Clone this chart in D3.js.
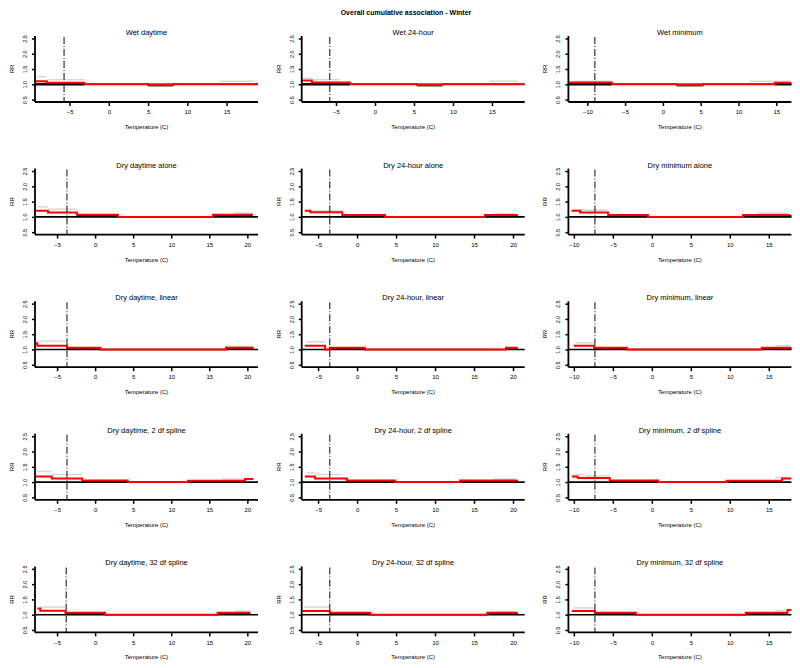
<!DOCTYPE html>
<html><head><meta charset="utf-8">
<script src="https://cdn.jsdelivr.net/npm/d3@7"></script>
<style>
body{margin:0;background:#fff}
svg{display:block}
text{font-family:"Liberation Sans",Arial,sans-serif;fill:#000}
</style>
</head><body>
<svg id="chart" width="800" height="668"></svg>
<script>
const mainTitle = "Overall cumulative association - Winter";
const panelTitles = [
  "Wet daytime", "Wet 24-hour", "Wet minimum",
  "Dry daytime alone", "Dry 24-hour alone", "Dry minimum alone",
  "Dry daytime, linear", "Dry 24-hour, linear", "Dry minimum, linear",
  "Dry daytime, 2 df spline", "Dry 24-hour, 2 df spline", "Dry minimum, 2 df spline",
  "Dry daytime, 32 df spline", "Dry 24-hour, 32 df spline", "Dry minimum, 32 df spline"
];
const yLabel = "RR";
const xLabel = "Temperature (C)";
const yTicks = [0.5, 1.0, 1.5, 2.0, 2.5];
const yDomain = [0.42, 2.58];

const domDay = [-7.9, 21.4], dom24 = [-7.1, 21.5], domMin = [-10.7, 17.9];
const xDomains = [
  [-9.4, 19.0], [-9.4, 19.2], [-12.5, 17.0],
  domDay, dom24, domMin,
  domDay, dom24, domMin,
  domDay, dom24, domMin,
  domDay, dom24, domMin
];
const ticksWet = [-5, 0, 5, 10, 15], ticksWetMin = [-10, -5, 0, 5, 10, 15];
const ticksDry = [-5, 0, 5, 10, 15, 20], ticksDryMin = [-10, -5, 0, 5, 10, 15];
const xTicks = [
  ticksWet, ticksWet, ticksWetMin,
  ticksDry, ticksDry, ticksDryMin,
  ticksDry, ticksDry, ticksDryMin,
  ticksDry, ticksDry, ticksDryMin,
  ticksDry, ticksDry, ticksDryMin
];
// vertical dash-dot reference temperature
const refTemps = [-5.7, -5.8, -9.0, -3.7, -3.5, -7.3, -3.7, -3.5, -7.3, -3.7, -3.5, -7.3, -3.8, -3.5, -7.3];

// RR estimate (red step line): breakpoints and values between them
const estBreaks = [
  [-9.4, -7.9, -3.1, 5.0, 8.2, 19.0],
  [-9.4, -8.1, -3.2, 5.4, 8.6, 19.2],
  [-12.5, -6.75, 1.85, 5.3, 14.8, 17.0],
  [-7.9, -6.2, -2.4, 3.0, 15.5, 20.7],
  [-6.7, -6.0, -1.9, 3.6, 16.4, 20.6],
  [-10.3, -9.2, -5.6, -0.5, 11.7, 17.7],
  [-7.9, -7.6, -3.7, 0.7, 17.2, 20.8],
  [-6.7, -4.1, -3.5, 1.0, 19.1, 20.6],
  [-10.0, -7.4, -3.2, 14.1, 17.9],
  [-7.9, -5.7, -1.7, 4.3, 12.2, 19.7, 20.8],
  [-6.7, -5.4, -1.3, 4.9, 13.2, 20.6],
  [-10.25, -9.5, -5.4, 0.8, 9.6, 16.7, 17.9],
  [-7.6, -7.2, -3.9, 1.3, 16.1, 20.4],
  [-7.0, -3.5, 1.7, 16.7, 20.6],
  [-10.25, -7.3, -2.05, 12.05, 17.4, 17.9]
];
const estValues = [
  [1.10, 1.05, 1.00, 0.98, 1.00],
  [1.12, 1.06, 1.00, 0.98, 1.00],
  [1.06, 1.00, 0.98, 1.00, 1.05],
  [1.20, 1.14, 1.07, 1.00, 1.07],
  [1.20, 1.15, 1.06, 1.00, 1.06],
  [1.20, 1.14, 1.06, 1.00, 1.06],
  [1.20, 1.12, 1.06, 1.00, 1.06],
  [1.12, 1.00, 1.06, 1.00, 1.06],
  [1.12, 1.06, 1.00, 1.06],
  [1.18, 1.12, 1.05, 1.00, 1.04, 1.10],
  [1.18, 1.12, 1.05, 1.00, 1.05],
  [1.18, 1.13, 1.05, 1.00, 1.04, 1.12],
  [1.20, 1.13, 1.06, 1.00, 1.06],
  [1.12, 1.06, 1.00, 1.06],
  [1.12, 1.06, 1.00, 1.06, 1.15]
];
// upper confidence limit (light grey): [from, to, RR]
const upperSegs = [
  [[-9.2, -7.9, 1.25], [-7.9, -3.1, 1.15], [14.1, 18.6, 1.10]],
  [[-9.3, -8.1, 1.20], [-8.1, -4.5, 1.15], [14.7, 18.3, 1.10]],
  [[-11.7, -6.75, 1.10], [11.5, 16.8, 1.10]],
  [[-7.6, -6.2, 1.33], [-6.2, -2.4, 1.25], [18.2, 20.7, 1.12]],
  [[-6.7, -1.9, 1.20], [17.5, 20.3, 1.10]],
  [[-10.0, -5.6, 1.22], [13.5, 17.5, 1.12]],
  [[-7.6, -3.9, 1.27], [17.0, 20.8, 1.10]],
  [[-6.5, -4.1, 1.25], [16.4, 19.6, 1.03]],
  [[-9.8, -7.4, 1.22], [15.8, 17.7, 1.12]],
  [[-7.6, -5.7, 1.35], [-5.7, -1.7, 1.25], [16.7, 20.5, 1.10]],
  [[-6.5, -5.4, 1.30], [-5.4, -2.0, 1.25], [17.5, 20.3, 1.10]],
  [[-10.0, -8.6, 1.25], [-8.6, -5.4, 1.20], [15.8, 17.7, 1.15]],
  [[-7.2, -3.9, 1.25], [18.4, 20.4, 1.12]],
  [[-6.8, -3.5, 1.25], [17.7, 20.3, 1.10]],
  [[-10.0, -7.3, 1.22], [15.8, 17.7, 1.13]]
];
// lower limit segments shown in black: [from, to, RR]
const lowerSegs = [
  [[-9.4, -3.1, 1.00], [5.0, 8.2, 0.97]],
  [[-9.4, -3.2, 1.00], [5.4, 8.6, 0.97]],
  [[-12.5, -6.75, 1.00], [1.85, 5.3, 0.97], [14.8, 17.0, 1.00]],
  [[-2.4, 3.0, 1.04], [15.5, 20.7, 1.04]],
  [[-1.9, 3.6, 1.03], [16.4, 20.6, 1.03]],
  [[-5.6, -0.5, 1.03], [11.7, 17.9, 1.03]],
  [[-3.7, 0.7, 1.03], [17.2, 20.8, 1.03]],
  [[-3.5, 1.0, 1.03], [19.1, 20.6, 1.03]],
  [[-7.4, -3.2, 1.03], [14.1, 17.9, 1.03]],
  [[-1.7, 4.3, 1.03], [12.2, 19.7, 1.03]],
  [[-1.3, 4.9, 1.03], [13.2, 20.6, 1.03]],
  [[-5.4, 0.8, 1.03], [9.6, 16.7, 1.03]],
  [[-3.9, 1.3, 1.03], [16.1, 20.4, 1.03]],
  [[-3.5, 1.7, 1.03], [16.7, 20.6, 1.03]],
  [[-7.3, -2.05, 1.03], [12.05, 17.4, 1.03]]
];

const svg = d3.select("#chart");
svg.append("text").attr("x", 406).attr("y", 15).attr("text-anchor", "middle")
  .attr("font-size", 7).attr("font-weight", "bold").text(mainTitle);

const colPitch = 266.7, rowPitch = 132.6, plotW = 223, plotH = 66;

panelTitles.forEach((title, i) => {
  const c = i % 3, r = Math.floor(i / 3);
  const L = 35 + c * colPitch, T = 36 + r * rowPitch;
  const g = svg.append("g").attr("transform", `translate(${L},${T})`);
  const x = d3.scaleLinear().domain(xDomains[i]).range([0, plotW]);
  const y = d3.scaleLinear().domain(yDomain).range([plotH, 0]);

  // title
  g.append("text").attr("x", plotW / 2).attr("y", -1).attr("text-anchor", "middle")
    .attr("font-size", 7.5).text(title);

  // reference line RR = 1
  g.append("line").attr("x1", 0).attr("x2", plotW).attr("y1", y(1)).attr("y2", y(1))
    .attr("stroke", "#000").attr("stroke-width", 1.6);

  // upper CI (grey)
  upperSegs[i].forEach(s => {
    g.append("line").attr("x1", x(s[0])).attr("x2", x(s[1]))
      .attr("y1", y(s[2])).attr("y2", y(s[2]))
      .attr("stroke", "#d9d9d9").attr("stroke-width", 1.6);
  });

  // lower limit (black thick)
  lowerSegs[i].forEach(s => {
    g.append("line").attr("x1", x(s[0])).attr("x2", x(s[1]))
      .attr("y1", y(s[2])).attr("y2", y(s[2]))
      .attr("stroke", "#000").attr("stroke-width", 2.4);
  });

  // estimate (red step)
  const br = estBreaks[i], vals = estValues[i];
  const pts = br.map((b, k) => [b, vals[Math.min(k, vals.length - 1)]]);
  const line = d3.line().x(d => x(d[0])).y(d => y(d[1])).curve(d3.curveStepAfter);
  g.append("path").attr("d", line(pts)).attr("fill", "none")
    .attr("stroke", "#ff0000").attr("stroke-width", 2);

  // dash-dot vertical line
  g.append("line").attr("x1", x(refTemps[i])).attr("x2", x(refTemps[i]))
    .attr("y1", 1).attr("y2", plotH)
    .attr("stroke", "#222").attr("stroke-width", 1.1).attr("stroke-dasharray", "7,2,1,2");

  // axes
  const yAxis = d3.axisLeft(y).tickValues(yTicks).tickSize(3).tickFormat(d3.format(".1f"));
  const ya = g.append("g").call(yAxis);
  ya.select(".domain").attr("d", `M0,0V${plotH}`).attr("stroke-width", 1.8);
  ya.selectAll(".tick line").attr("stroke-width", 1.5);
  ya.selectAll(".tick text").attr("font-size", 5.5).attr("font-family", "Liberation Sans,Arial,sans-serif")
    .attr("transform", "rotate(-90)").attr("text-anchor", "middle")
    .attr("x", 0).attr("y", -8).attr("dy", 0);

  const xAxis = d3.axisBottom(x).tickValues(xTicks[i]).tickSize(4).tickFormat(d3.format("d"));
  const xa = g.append("g").attr("transform", `translate(0,${plotH})`).call(xAxis);
  xa.select(".domain").attr("d", `M0,0H${plotW}`).attr("stroke-width", 1.8);
  xa.selectAll(".tick line").attr("stroke-width", 1.5);
  xa.selectAll(".tick text").attr("font-size", 6).attr("font-family", "Liberation Sans,Arial,sans-serif")
    .attr("y", 8).attr("dy", "0.71em");

  // axis labels
  g.append("text").attr("x", plotW / 2).attr("y", plotH + 27).attr("text-anchor", "middle")
    .attr("font-size", 6).text(xLabel);
  g.append("text").attr("transform", `translate(-21,${plotH / 2}) rotate(-90)`)
    .attr("text-anchor", "middle").attr("font-size", 6).text(yLabel);
});
</script>
</body></html>
